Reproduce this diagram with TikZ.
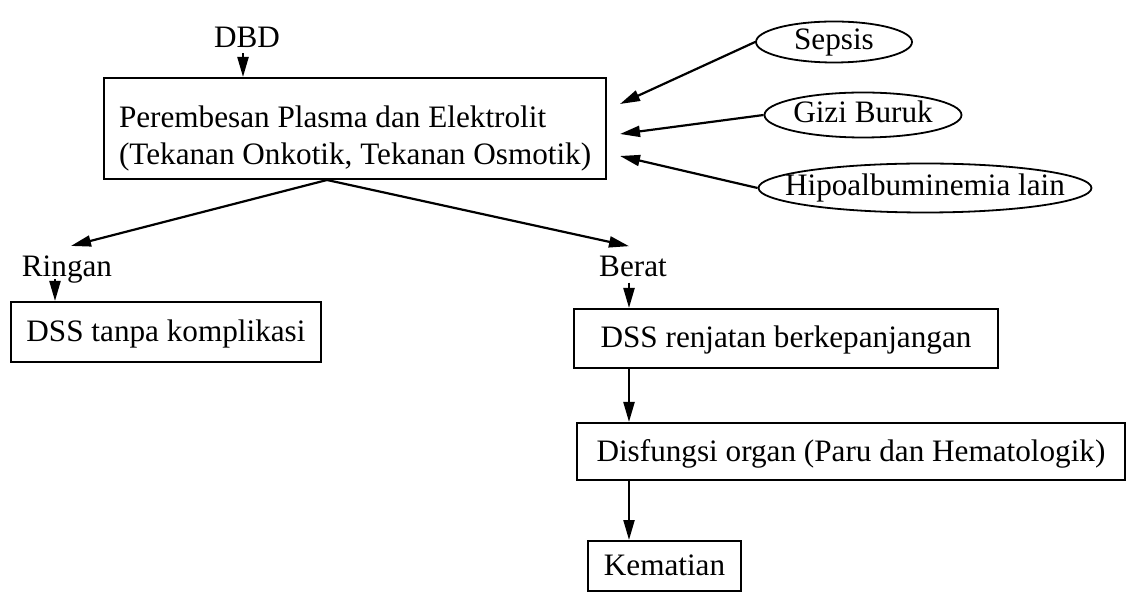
\documentclass[tikz,border=0pt]{standalone}
\usepackage{fontspec}
\setmainfont{Liberation Serif}
\usetikzlibrary{arrows.meta,shapes.geometric,calc}
\newcommand{\ovtext}[1]{\makebox[0pt]{#1}}

\begin{document}
\begin{tikzpicture}[x=0.5pt,y=-0.5pt,
  font=\fontsize{15.6pt}{18.5pt}\selectfont,
  box/.style={draw,line width=1pt,inner sep=0pt,anchor=north west,text height=0.95em,text depth=0pt},
  oval/.style={draw,ellipse,line width=0.9pt,inner sep=0pt,text height=0.76em,text depth=0pt},
  lbl/.style={inner sep=0pt,anchor=base},
  arr/.style={line width=1.1pt,-{Triangle[length=10pt,width=5.5pt]}}]
\useasboundingbox (0,0) rectangle (1128,592);
\node[lbl] (dbd) at (247,48) {DBD};
\node[draw,line width=1pt,anchor=north west,align=left,inner xsep=7.5pt,inner ysep=0pt,minimum height=50.5pt] (plasma) at (103,77)
  {\rule{0pt}{20.5pt}Perembesan Plasma dan Elektrolit\\(Tekanan Onkotik, Tekanan Osmotik)};
\node[oval,minimum width=78pt,minimum height=20.5pt] (sepsis) at (834,42) {\ovtext{Sepsis}};
\node[oval,minimum width=98.5pt,minimum height=22.5pt] (gizi) at (863,115) {\ovtext{Gizi Buruk}};
\node[oval,minimum width=166.5pt,minimum height=24.5pt] (hipo) at (925,188) {\ovtext{Hipoalbuminemia lain}};
\node[lbl] (ringan) at (67,277) {Ringan};
\node[lbl] (berat) at (633,277) {Berat};
\node[box,minimum width=155pt,minimum height=30pt] (tanpa) at (10,301) {DSS tanpa komplikasi};
\node[box,minimum width=212pt,minimum height=29.5pt] (renjatan) at (573,308) {DSS renjatan berkepanjangan};
\node[box,minimum width=274pt,minimum height=28.5pt] (disfungsi) at (576,422) {Disfungsi organ (Paru dan Hematologik)};
\node[box,minimum width=76.5pt,minimum height=25pt] (kematian) at (587,540) {Kematian};
\coordinate (inS) at (620,104);
\coordinate (inG) at (620,134);
\coordinate (inH) at (620,156);
\coordinate (split) at ($(plasma.south west)+(224,0)$);
\coordinate (d0) at ([xshift=-2pt]dbd.south);
\coordinate (r0) at ([xshift=-6pt]ringan.base);
\coordinate (b0) at ([xshift=-2pt]berat.south);
\draw[arr,shorten <=2.5pt] (d0) -- (d0 |- plasma.north);
\path[arr] (sepsis.west) edge (inS)
  (gizi.west) edge (inG)
  (hipo.west) edge (inH);
\path[arr] (split) edge ([shift={(2pt,5pt)}]ringan.north)
  edge ([shift={(-2pt,5pt)}]berat.north);
\draw[arr,shorten <=1pt] (r0) -- (r0 |- tanpa.north);
\draw[arr,shorten <=2.5pt] (b0) -- (b0 |- renjatan.north);
\path[arr] (renjatan.south -| b0) edge (disfungsi.north -| b0)
  (disfungsi.south -| b0) edge (kematian.north -| b0);
\end{tikzpicture}
\end{document}
